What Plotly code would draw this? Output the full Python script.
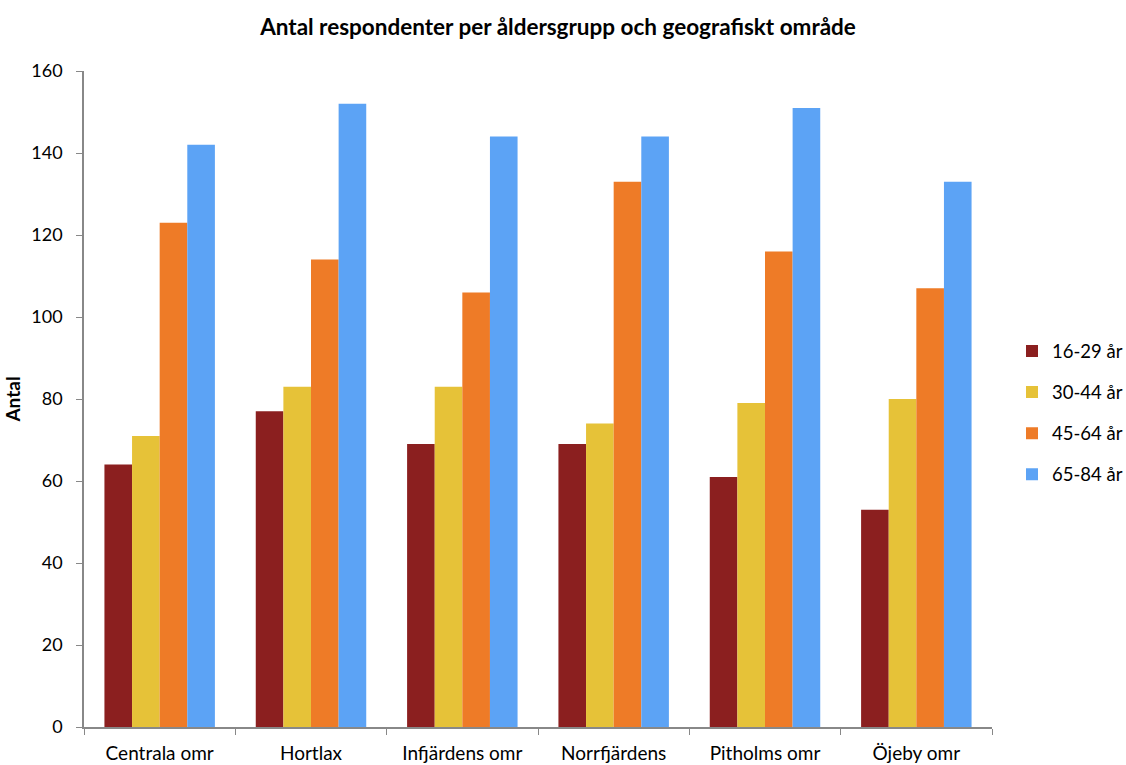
import plotly.graph_objects as go

# Respondent counts per age group and area
areas = ["Centrala omr", "Hortlax", "Infjärdens omr", "Norrfjärdens", "Pitholms omr", "Öjeby omr"]
age_groups = ["16-29 år", "30-44 år", "45-64 år", "65-84 år"]
age_16_29 = [64, 77, 69, 69, 61, 53]
age_30_44 = [71, 83, 83, 74, 79, 80]
age_45_64 = [123, 114, 106, 133, 116, 107]
age_65_84 = [142, 152, 144, 144, 151, 133]
y_ticks = [0, 20, 40, 60, 80, 100, 120, 140, 160]

series = [age_16_29, age_30_44, age_45_64, age_65_84]
colors = ["#8B1F1F", "#E6C238", "#EE7B27", "#5CA3F5"]

FONT = "Lato, 'Open Sans', sans-serif"

fig = go.Figure()
for name, vals, col in zip(age_groups, series, colors):
    fig.add_trace(go.Bar(x=areas, y=vals, name=name, marker_color=col,
                         marker_line_width=0, legendgroup=name))

fig.update_layout(
    width=1126, height=765,
    margin=dict(l=84, r=134, t=71, b=38, autoexpand=False),
    paper_bgcolor="white", plot_bgcolor="white",
    barmode="group", bargap=0.27, bargroupgap=0,
    font=dict(family=FONT, size=19, color="#000000"),
    title=dict(text="<b>Antal respondenter per åldersgrupp och geografiskt område</b>",
               x=558 / 1126, xanchor="center", xref="container",
               y=1 - 27 / 765, yref="container", yanchor="middle",
               font=dict(size=22.5, family=FONT)),
    legend=dict(xref="container", x=1012 / 1126, xanchor="left",
                yref="container", y=1 - 413 / 765, yanchor="middle",
                font=dict(size=18.5), itemwidth=30, tracegroupgap=14,
                traceorder="grouped"),
    showlegend=True,
)
fig.update_xaxes(
    type="category", showline=True, linecolor="#888888", linewidth=1.5,
    ticks="outside", tickson="boundaries", ticklen=6, tickcolor="#888888",
    showgrid=False, tickfont=dict(size=19), ticklabelstandoff=8,
)
fig.update_yaxes(
    range=[0, 160], tickvals=y_ticks, showline=True, linecolor="#888888",
    linewidth=1.5, ticks="outside", ticklen=6, tickcolor="#888888",
    showgrid=False, zeroline=False, tickfont=dict(size=18),
    ticklabelstandoff=10,
    title=dict(text="<b>Antal</b>", font=dict(size=19), standoff=6),
)

fig.write_html("out.html")
